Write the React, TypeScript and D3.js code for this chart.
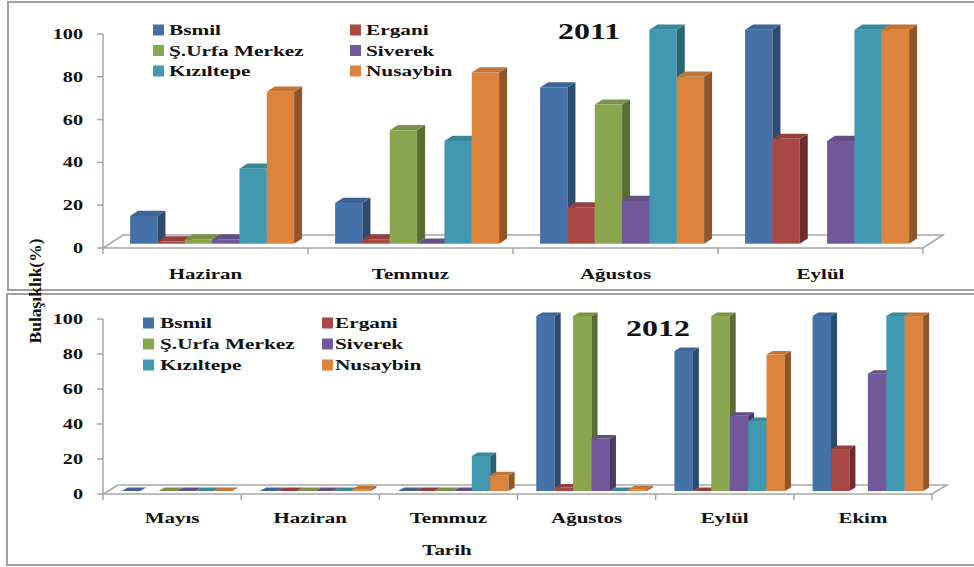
import React from "react";
import * as d3 from "d3";

// Districts (series) shown in both panels
const seriesNames = ["Bsmil", "Ergani", "Ş.Urfa Merkez", "Siverek", "Kızıltepe", "Nusaybin"];

// 2011 sampling months and infestation values (%), null = not sampled
const months2011 = ["Haziran", "Temmuz", "Ağustos", "Eylül"];
const bsmil2011 = [13, 19, 73, 100];
const ergani2011 = [1, 2, 17, 49];
const urfa2011 = [2, 53, 65, null];
const siverek2011 = [2, 0, 20, 48];
const kiziltepe2011 = [35, 48, 100, 100];
const nusaybin2011 = [71, 80, 78, 100];

// 2012 sampling months and infestation values (%)
const months2012 = ["Mayıs", "Haziran", "Temmuz", "Ağustos", "Eylül", "Ekim"];
const bsmil2012 = [0, 0, 0, 100, 80, 100];
const ergani2012 = [null, 0, 0, 2, 0, 24];
const urfa2012 = [0, 0, 0, 100, 100, null];
const siverek2012 = [0, 0, 0, 30, 43, 67];
const kiziltepe2012 = [0, 0, 20, 0, 40, 100];
const nusaybin2012 = [0, 1, 9, 1, 78, 100];

const valueTicks = [0, 20, 40, 60, 80, 100];

const frontColors = ["#4472A8", "#A94744", "#8AA64F", "#71589A", "#4099B0", "#DC843E"];
const sideColors = ["#2C4A6E", "#6E2D2C", "#5A6C33", "#4A3A63", "#2A6473", "#915628"];

const FONT = "Liberation Serif, serif";
const AXIS_GRAY = "#A6A6A6";

type Val = number | null;

function WideText({ x, y, children, size = 15, sx = 1.4, anchor = "start" as any }) {
  return (
    <text
      transform={`translate(${x},${y}) scale(${sx},1)`}
      textAnchor={anchor}
      style={{ fontFamily: FONT, fontWeight: 700, fontSize: size }}
      fill="#111"
    >
      {children}
    </text>
  );
}

function Panel(props: {
  cats: string[];
  values: Val[][];
  title: string;
  titleX: number;
  titleY: number;
  x0: number;
  x1: number;
  y0: number;
  y100: number;
  depth: [number, number];
  legendX: [number, number];
  legendTextX: [number, number];
  legendY: number;
  legendStep: number;
  labelOffset: number;
}) {
  const { cats, values, x0, x1, y0, y100, depth } = props;
  const [ddx, ddy] = depth;
  const xBand = d3.scaleBand<string>().domain(cats).range([x0, x1]).paddingInner(0).paddingOuter(0);
  const inner = d3
    .scaleBand<string>()
    .domain(seriesNames)
    .range([0, xBand.bandwidth()])
    .paddingInner(0)
    .paddingOuter(0.75);
  const y = d3.scaleLinear().domain([0, 100]).range([y0, y100]);

  // front plane of the columns sits a third of the way into the floor depth
  const fx = ddx * 0.33;
  const fy = ddy * 0.33;
  const bx = ddx * 0.4;
  const by = ddy * 0.4;
  const w = inner.bandwidth();

  const bars: JSX.Element[] = [];
  cats.forEach((cat, ci) => {
    seriesNames.forEach((name, si) => {
      const v = values[si][ci];
      if (v === null || v === undefined) return;
      const left = (xBand(cat) as number) + (inner(name) as number) + fx;
      const base = y0 - fy;
      const top = y(v) - fy;
      const front = frontColors[si];
      const side = sideColors[si];
      const topColor = d3.color(front)!.darker(0.35).formatHex();
      const r = left + w;
      bars.push(
        <g key={`${cat}-${name}`}>
          <rect x={left} y={top} width={w} height={Math.max(0, base - top)} fill={front} />
          <polygon
            points={`${r},${top} ${r + bx},${top - by} ${r + bx},${base - by} ${r},${base}`}
            fill={side}
          />
          <polygon
            points={`${left},${top} ${left + bx},${top - by} ${r + bx},${top - by} ${r},${top}`}
            fill={topColor}
          />
        </g>
      );
    });
  });

  const boundaries = cats.map((c) => xBand(c) as number).concat([x1]);

  return (
    <g>
      {/* floor */}
      <polygon
        points={`${x0},${y0} ${x1},${y0} ${x1 + ddx},${y0 - ddy} ${x0 + ddx},${y0 - ddy}`}
        fill="#fff"
        stroke={AXIS_GRAY}
        strokeWidth={1.5}
      />
      {/* value axis */}
      <line x1={x0} y1={y(100)} x2={x0} y2={y0} stroke={AXIS_GRAY} strokeWidth={1.5} />
      {valueTicks.map((t) => (
        <g key={t}>
          <line x1={x0 - 6} y1={y(t)} x2={x0} y2={y(t)} stroke={AXIS_GRAY} strokeWidth={1.5} />
          <WideText x={x0 - 20} y={y(t) + 5} anchor="end" size={15} sx={1.35}>
            {t}
          </WideText>
        </g>
      ))}
      {/* category axis ticks */}
      {boundaries.map((b, i) => (
        <line key={i} x1={b} y1={y0} x2={b} y2={y0 + 6} stroke={AXIS_GRAY} strokeWidth={1.5} />
      ))}
      {cats.map((c) => (
        <WideText
          key={c}
          x={(xBand(c) as number) + xBand.bandwidth() / 2}
          y={y0 + props.labelOffset}
          anchor="middle"
          size={15}
          sx={1.4}
        >
          {c}
        </WideText>
      ))}
      {bars}
      {/* legend, two columns */}
      {seriesNames.map((name, i) => {
        const col = i % 2;
        const row = Math.floor(i / 2);
        const cy = props.legendY + row * props.legendStep;
        return (
          <g key={name}>
            <rect x={props.legendX[col]} y={cy - 5.5} width={11} height={11} fill={frontColors[i]} />
            <WideText x={props.legendTextX[col]} y={cy + 5} size={15} sx={1.42}>
              {name}
            </WideText>
          </g>
        );
      })}
      <WideText x={props.titleX} y={props.titleY} size={23} sx={1.39}>
        {props.title}
      </WideText>
    </g>
  );
}

export default function App() {
  const values2011 = [bsmil2011, ergani2011, urfa2011, siverek2011, kiziltepe2011, nusaybin2011];
  const values2012 = [bsmil2012, ergani2012, urfa2012, siverek2012, kiziltepe2012, nusaybin2012];
  return (
    <svg
      width={974}
      height={567}
      style={{ position: "absolute", left: 0, top: 0, background: "#fff" }}
    >
      <rect x={0} y={0} width={974} height={567} fill="#fff" />
      {/* panel frames */}
      <rect x={8} y={2} width={980} height={288} fill="none" stroke="#A0A0A0" strokeWidth={2} />
      <rect x={7} y={294} width={980} height={271} fill="none" stroke="#A0A0A0" strokeWidth={2} />
      <Panel
        cats={months2011}
        values={values2011}
        title="2011"
        titleX={558}
        titleY={39}
        x0={103}
        x1={923}
        y0={248}
        y100={34}
        depth={[20, 13]}
        legendX={[153, 350]}
        legendTextX={[169, 366]}
        legendY={30}
        legendStep={20.5}
        labelOffset={31}
      />
      <Panel
        cats={months2012}
        values={values2012}
        title="2012"
        titleX={626}
        titleY={336}
        x0={103}
        x1={932}
        y0={494}
        y100={319}
        depth={[15, 9]}
        legendX={[143, 322]}
        legendTextX={[160, 335]}
        legendY={323}
        legendStep={21}
        labelOffset={29}
      />
      <text
        transform="translate(41,291) rotate(-90)"
        textAnchor="middle"
        style={{ fontFamily: FONT, fontWeight: 700, fontSize: 17.5 }}
        fill="#111"
      >
        Bulaşıklık(%)
      </text>
      <WideText x={447} y={555} anchor="middle" size={15} sx={1.4}>
        Tarih
      </WideText>
    </svg>
  );
}
